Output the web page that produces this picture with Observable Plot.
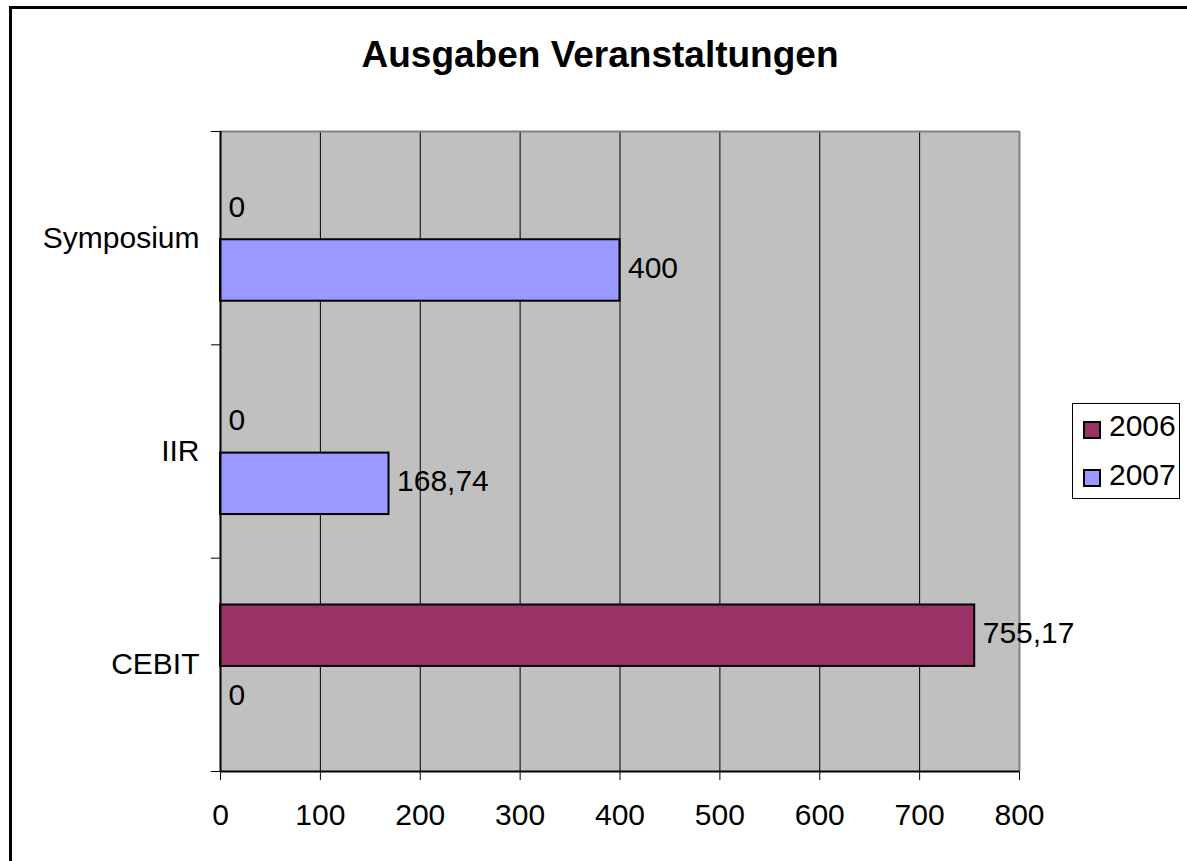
<!DOCTYPE html>
<html>
<head>
<meta charset="utf-8">
<script src="https://cdn.jsdelivr.net/npm/d3@7"></script>
<script src="https://cdn.jsdelivr.net/npm/@observablehq/plot@0.6"></script>
<style>
  html, body { margin: 0; padding: 0; background: #fff; overflow: hidden; }
  #wrap { position: relative; width: 1187px; height: 861px; overflow: hidden; font-family: "Liberation Sans", Arial, sans-serif; color: #000; }
  #edgeTop { position: absolute; left: 9px; top: 6px; width: 1178px; height: 3px; background: #000; }
  #edgeLeft { position: absolute; left: 9px; top: 6px; width: 3px; height: 855px; background: #000; }
  #title { position: absolute; left: 300px; top: 36px; width: 600px; text-align: center; font-size: 37px; line-height: 37px; font-weight: bold; white-space: nowrap; }
  #chart { position: absolute; left: 0; top: 0; }
  #legend { position: absolute; left: 1072px; top: 403px; width: 108px; height: 96px; box-sizing: border-box; border: 1px solid #000; background: #fff; }
  .sw { position: absolute; left: 10px; width: 18px; height: 18px; box-sizing: border-box; border: 2px solid #000; }
  .lt { position: absolute; left: 36px; font-size: 30px; line-height: 30px; }
</style>
</head>
<body>
<div id="wrap">
  <div id="edgeTop"></div>
  <div id="edgeLeft"></div>
  <div id="chart"></div>
  <div id="title">Ausgaben Veranstaltungen</div>
  <div id="legend"></div>
</div>
<script>
// ---- data ----
const categories = ["Symposium", "IIR", "CEBIT"];   // top to bottom
const series = ["2006", "2007"];
const values2006 = [0, 0, 755.17];
const values2007 = [400, 168.74, 0];
const xTicks = [0, 100, 200, 300, 400, 500, 600, 700, 800];
const seriesColors = ["#993366", "#9999FF"];

// ---- layout parameters (fractions of a category band) ----
const groupPad = 0.2045;
const barSpan = 0.288;

const seriesValues = [values2006, values2007];
const nCat = categories.length;
const rows = categories.flatMap((c, i) => series.map((s, j) => ({
  category: c, series: s, value: seriesValues[j][i], band: nCat - 1 - i, slot: j
})));
const yLow = d => d.band + groupPad + (series.length - 1 - d.slot) * barSpan;
const yHigh = d => yLow(d) + barSpan;
const yMid = d => yLow(d) + barSpan / 2;
const fmt = v => String(v).replace(".", ",");
const xMax = xTicks[xTicks.length - 1];

const chart = Plot.plot({
  width: 1187,
  height: 861,
  marginLeft: 220,
  marginRight: 168,
  marginTop: 131,
  marginBottom: 90,
  style: { fontFamily: "'Liberation Sans', Arial, sans-serif", fontSize: "30px", color: "black", background: "transparent", overflow: "visible" },
  x: { domain: [0, xMax], ticks: xTicks, tickSize: 9, tickPadding: 23, label: null, tickFormat: d => String(d) },
  y: { domain: [0, nCat], ticks: d3.range(nCat + 1), tickSize: 9, tickFormat: () => "", label: null },
  color: { domain: series, range: seriesColors },
  marks: [
    Plot.frame({ fill: "#c0c0c0" }),
    Plot.ruleX(xTicks.filter(t => t > 0 && t < xMax), { stroke: "black", strokeWidth: 1 }),
    Plot.ruleX([xMax], { stroke: "#808080", strokeWidth: 2 }),
    Plot.ruleY([nCat], { stroke: "#808080", strokeWidth: 2 }),
    Plot.rect(rows.filter(d => d.value > 0), { x1: d => 0, x2: "value", y1: yLow, y2: yHigh, fill: "series", stroke: "black", strokeWidth: 2 }),
    Plot.ruleX([0], { stroke: "black", strokeWidth: 2 }),
    Plot.ruleY([0], { stroke: "black", strokeWidth: 2 }),
    Plot.text(rows, { x: "value", y: yMid, text: d => fmt(d.value), textAnchor: "start", dx: 8, dy: -2, fontSize: 30, fill: "black" }),
    Plot.text(categories, { y: (d, i) => nCat - 1 - i + 0.5, text: d => d, frameAnchor: "left", textAnchor: "end", dx: -21, fontSize: 30, fill: "black" })
  ]
});
document.getElementById("chart").appendChild(chart);

// ---- legend ----
const legend = document.getElementById("legend");
series.forEach((s, j) => {
  const sw = document.createElement("div");
  sw.className = "sw";
  sw.style.top = (17 + j * 48) + "px";
  sw.style.background = seriesColors[j];
  legend.appendChild(sw);
  const t = document.createElement("div");
  t.className = "lt";
  t.style.top = (7 + j * 49) + "px";
  t.textContent = s;
  legend.appendChild(t);
});
</script>
</body>
</html>
